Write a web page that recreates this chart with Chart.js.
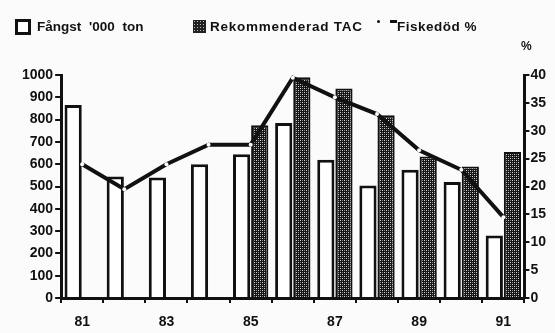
<!DOCTYPE html>
<html>
<head>
<meta charset="utf-8">
<script src="https://cdn.jsdelivr.net/npm/chart.js@4.4.1/dist/chart.umd.min.js"></script>
<style>
  body { margin: 0; background: #fbfbfb; overflow: hidden; }
  #wrap { position: relative; width: 555px; height: 333px; overflow: hidden; font-family: "Liberation Sans", Arial, sans-serif; }
  .lg { position: absolute; top: 19px; font-size: 13.5px; font-weight: bold; color: #111; white-space: nowrap; }
  .box { position: absolute; }
  #pct { position: absolute; left: 521px; top: 39px; font-size: 12px; font-weight: bold; color: #111; }
</style>
</head>
<body>
<div id="wrap">
  <canvas id="myChart" width="555" height="344"></canvas>
  <div class="box" style="left:15px; top:19px; width:10px; height:10px; border:3px solid #111; background:#fff;"></div>
  <div class="lg" style="left:37px; word-spacing:4px;">Fångst '000 ton</div>
  <div class="box" style="left:193px; top:20px; width:13px; height:13px; background-color:#222; background-image: radial-gradient(#bbb 0.7px, transparent 0.9px); background-size: 3px 3px;"></div>
  <div class="lg" style="left:210px; letter-spacing:0.75px;">Rekommenderad TAC</div>
  <div class="box" style="left:377px; top:20px; width:3px; height:3px; border-radius:2px; background:#111;"></div>
  <div class="box" style="left:390px; top:20px; width:7px; height:3px; background:#111;"></div>
  <div class="lg" style="left:397px; letter-spacing:0.5px;">Fiskedöd %</div>
  <div id="pct">%</div>
</div>
<script>
//data
const years = ['81', '82', '83', '84', '85', '86', '87', '88', '89', '90', '91'];
const fangst = [865, 545, 540, 600, 645, 785, 620, 505, 575, 520, 280];
const tac = [null, null, null, null, 775, 990, 940, 820, 635, 590, 655];
const fiskedod = [24, 19.5, 24, 27.5, 27.5, 39.5, 36, 33, 26.5, 23, 14.5];

const ctx = document.getElementById('myChart');

// stippled fill for TAC bars
const makePattern = () => {
  const c = document.createElement('canvas');
  c.width = 4;
  c.height = 4;
  const p = c.getContext('2d');
  p.fillStyle = '#151515';
  p.fillRect(0, 0, 4, 4);
  p.fillStyle = '#d8d8d8';
  p.fillRect(0, 0, 1, 1);
  p.fillRect(2, 2, 1, 1);
  p.fillStyle = '#888';
  p.fillRect(2, 0, 1, 1);
  p.fillRect(0, 2, 1, 1);
  return p.createPattern(c, 'repeat');
};

const tickFont = { family: "'Liberation Sans', Arial, sans-serif", size: 14, weight: 'bold', lineHeight: 1 };

const chart = new Chart(ctx, {
  data: {
    labels: years,
    datasets: [
      {
        type: 'line',
        label: 'Fiskedöd %',
        data: fiskedod,
        yAxisID: 'y1',
        borderColor: '#111',
        borderWidth: 4,
        pointRadius: 2,
        pointBackgroundColor: '#fff',
        pointBorderWidth: 0,
        tension: 0,
        order: 0
      },
      {
        type: 'bar',
        label: "Fångst '000 ton",
        data: fangst,
        yAxisID: 'y',
        backgroundColor: '#fff',
        borderColor: '#111',
        borderWidth: 3,
        categoryPercentage: 0.86,
        barPercentage: 0.95,
        order: 1
      },
      {
        type: 'bar',
        label: 'Rekommenderad TAC',
        data: tac,
        yAxisID: 'y',
        backgroundColor: makePattern(),
        borderColor: '#111',
        borderWidth: 2,
        categoryPercentage: 0.86,
        barPercentage: 0.95,
        order: 1
      }
    ]
  },
  options: {
    responsive: false,
    animation: false,
    layout: { padding: { top: 75, left: 20, right: 8, bottom: 3 } },
    plugins: {
      legend: { display: false },
      tooltip: { enabled: false }
    },
    scales: {
      x: {
        offset: true,
        border: { color: '#111', width: 3 },
        grid: { display: true, drawOnChartArea: false, color: '#111', tickLength: 5, lineWidth: 2, offset: true },
        ticks: {
          autoSkip: false,
          maxRotation: 0,
          color: '#111',
          font: tickFont,
          padding: 12,
          callback: (v, i) => (i % 2 === 0 ? years[i] : '')
        }
      },
      y: {
        position: 'left',
        min: 0,
        max: 1000,
        border: { color: '#111', width: 3 },
        grid: { drawOnChartArea: false, color: '#111', tickLength: 6, lineWidth: 2 },
        ticks: { stepSize: 100, color: '#111', font: tickFont, padding: 2, callback: v => String(v) }
      },
      y1: {
        position: 'right',
        min: 0,
        max: 40,
        border: { color: '#111', width: 3 },
        grid: { drawOnChartArea: false, color: '#111', tickLength: 5, lineWidth: 2 },
        ticks: { stepSize: 5, color: '#111', font: tickFont, padding: 1 }
      }
    }
  }
});
</script>
</body>
</html>
